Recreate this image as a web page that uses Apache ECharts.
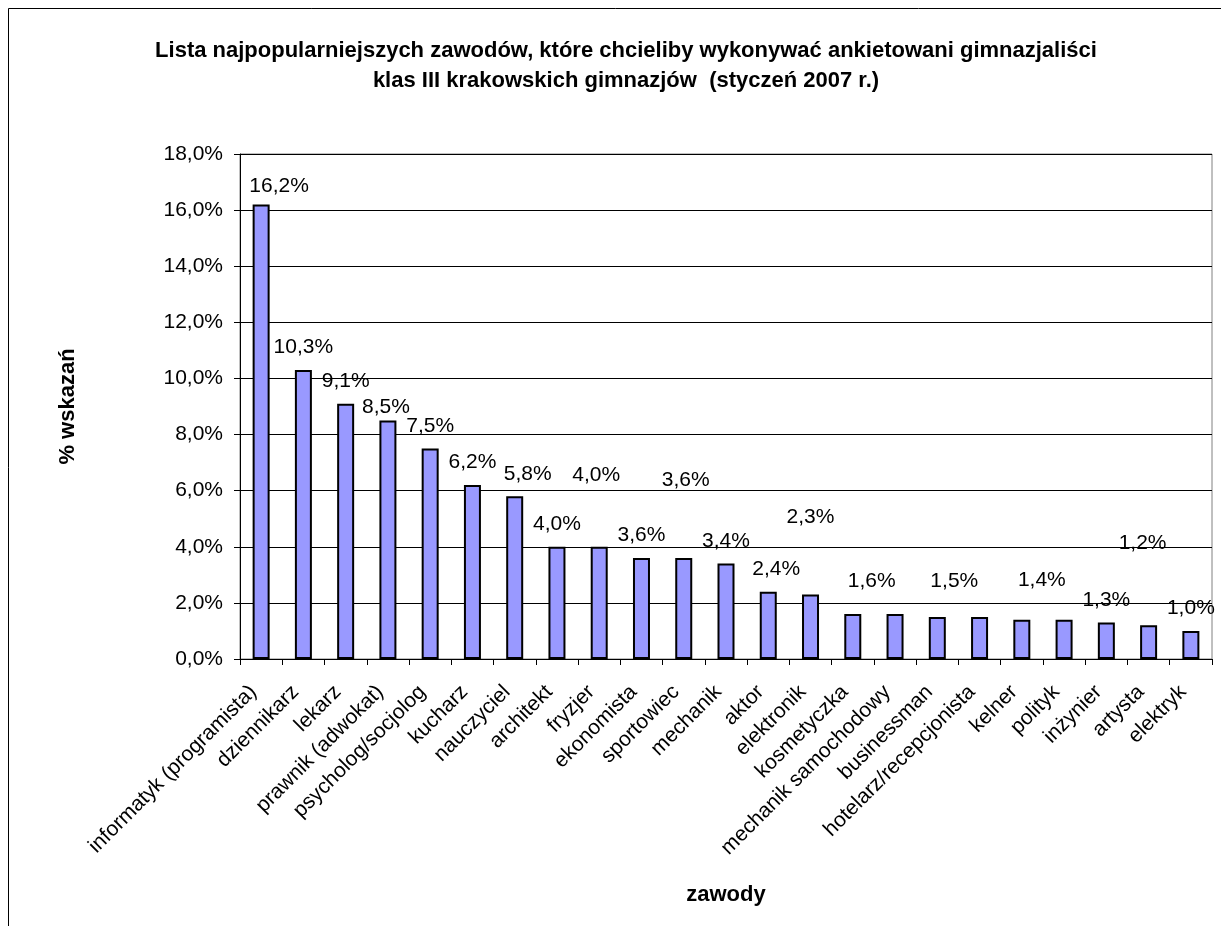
<!DOCTYPE html>
<html>
<head>
<meta charset="utf-8">
<script src="https://cdn.jsdelivr.net/npm/echarts@6/dist/echarts.min.js"></script>
<style>
html,body{margin:0;padding:0;background:#fff;}
#chart{width:1221px;height:926px;}
</style>
</head>
<body>
<div id="chart"></div>
<script>
const categories = ['informatyk (programista)','dziennikarz','lekarz','prawnik (adwokat)','psycholog/socjolog','kucharz','nauczyciel','architekt','fryzjer','ekonomista','sportowiec','mechanik','aktor','elektronik','kosmetyczka','mechanik samochodowy','businessman','hotelarz/recepcjonista','kelner','polityk','inżynier','artysta','elektryk'];
const values = [16.2,10.3,9.1,8.5,7.5,6.2,5.8,4.0,4.0,3.6,3.6,3.4,2.4,2.3,1.6,1.6,1.5,1.5,1.4,1.4,1.3,1.2,1.0];
const yTicks = [0,2,4,6,8,10,12,14,16,18];
const titleLines = ['Lista najpopularniejszych zawodów, które chcieliby wykonywać ankietowani gimnazjaliści','klas III krakowskich gimnazjów  (styczeń 2007 r.)'];
const yName = '% wskazań';
const xName = 'zawody';

const FONT = '"Liberation Sans", Arial, sans-serif';
const fmt = v => v.toFixed(1).replace('.', ',') + '%';

// label placement tweaks (as in original, by index)
const tweak = {0:[18,4],3:[-2,9],6:[13,0],8:[-3,-49],10:[2,-55],12:[8,0],13:[0,-55],14:[19,-10],15:null,16:[17,-13],17:null,18:[20,-17],19:null,21:[-6,-60]};

const seriesData = values.map((v, i) => {
  const item = { value: v };
  if (i in tweak) {
    if (tweak[i] === null) item.label = { show: false };
    else item.label = { offset: tweak[i] };
  }
  return item;
});

const chart = echarts.init(document.getElementById('chart'));
chart.setOption({
  animation: false,
  backgroundColor: '#fff',
  title: {
    text: titleLines.join('\n'),
    left: 621,
    top: 31,
    textAlign: 'center',
    textStyle: { fontFamily: FONT, fontSize: 22, fontWeight: 'bold', color: '#000', lineHeight: 30 }
  },
  graphic: [{
    type: 'rect',
    shape: { x: 8.5, y: 8.5, width: 1400, height: 1200 },
    style: { fill: 'none', stroke: '#000', lineWidth: 1 },
    silent: true,
    z: 100
  }],
  grid: {
    left: 240, top: 154, right: 9, bottom: 267,
    show: true, borderColor: '#808080', borderWidth: 1, backgroundColor: 'transparent'
  },
  xAxis: {
    type: 'category',
    data: categories,
    name: xName,
    nameLocation: 'middle',
    nameGap: 225,
    nameTextStyle: { fontFamily: FONT, fontSize: 22, fontWeight: 'bold', color: '#000' },
    axisLine: { show: true, lineStyle: { color: '#000', width: 1 } },
    axisTick: { show: true, alignWithLabel: false, interval: 0, length: 6, lineStyle: { color: '#000' } },
    axisLabel: { interval: 0, rotate: 45, margin: 22, padding: [0, 11, 0, 0], fontFamily: FONT, fontSize: 21, color: '#000' },
    splitLine: { show: false }
  },
  yAxis: {
    type: 'value',
    min: yTicks[0],
    max: yTicks[yTicks.length - 1],
    interval: yTicks[1] - yTicks[0],
    name: yName,
    nameLocation: 'middle',
    nameGap: 161,
    nameRotate: 90,
    nameTextStyle: { fontFamily: FONT, fontSize: 22, fontWeight: 'bold', color: '#000' },
    axisLine: { show: true, lineStyle: { color: '#000', width: 1 } },
    axisTick: { show: true, length: 6, lineStyle: { color: '#000' } },
    axisLabel: { margin: 17, fontFamily: FONT, fontSize: 21, color: '#000', formatter: v => fmt(v) },
    splitLine: { show: true, lineStyle: { color: '#000', width: 1 } }
  },
  series: [{
    type: 'bar',
    data: seriesData,
    barWidth: 17,
    itemStyle: { color: '#9999FF', borderColor: '#000', borderWidth: 2 },
    label: {
      show: true,
      position: 'top',
      distance: 12,
      fontFamily: FONT,
      fontSize: 21,
      color: '#000',
      formatter: p => fmt(p.value)
    }
  }]
});
</script>
</body>
</html>
